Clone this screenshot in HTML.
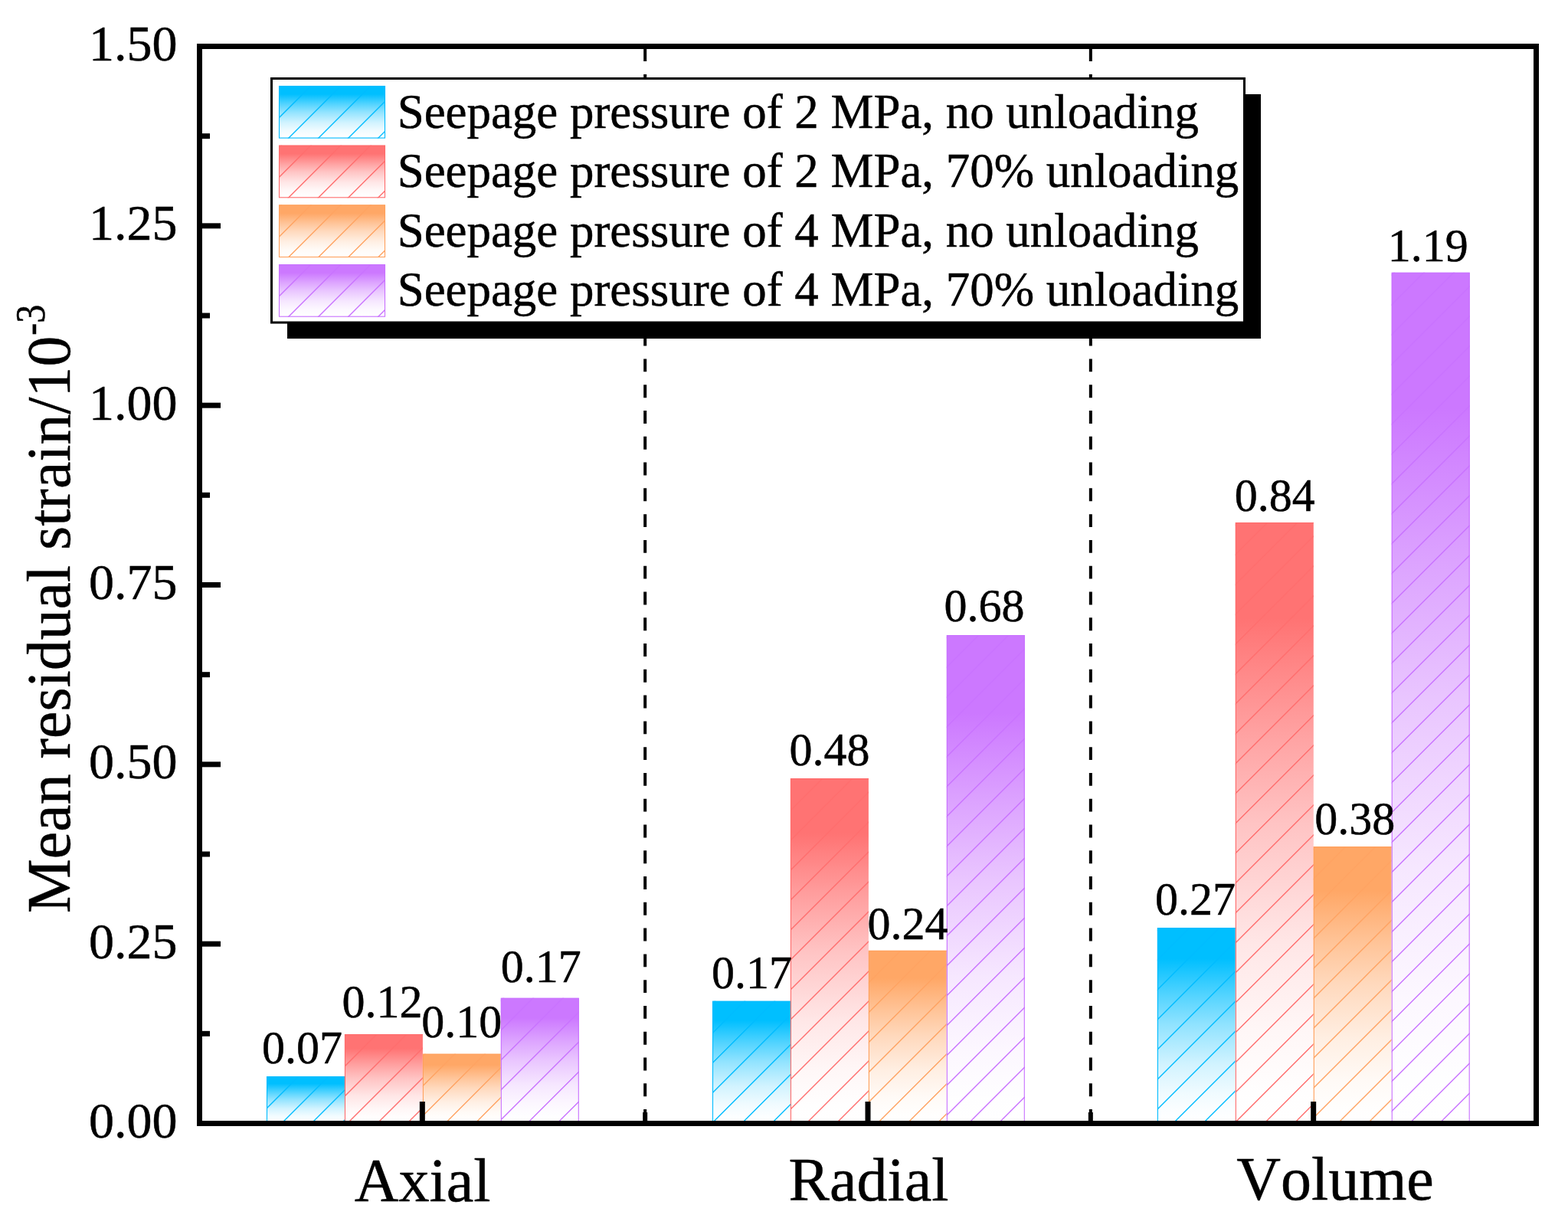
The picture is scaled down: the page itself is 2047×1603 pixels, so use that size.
<!DOCTYPE html><html><head><meta charset="utf-8"><title>Mean residual strain</title>
<style>html,body{margin:0;padding:0;background:#fff;overflow:hidden;}svg{display:block;}text{font-family:"Liberation Serif", "Times New Roman", serif;fill:#000;font-kerning:none;stroke:#000;stroke-width:0.5px;}</style>
</head><body>
<svg width="2047" height="1603" viewBox="0 0 2047 1603">
<defs><linearGradient id="gc" x1="0" y1="0" x2="0" y2="1"><stop offset="0.000" stop-color="#00BFFF"/><stop offset="0.160" stop-color="#00BFFF"/><stop offset="0.350" stop-color="#54D4FF"/><stop offset="0.500" stop-color="#91E3FF"/><stop offset="0.700" stop-color="#D1F3FF"/><stop offset="0.850" stop-color="#F0FBFF"/><stop offset="0.950" stop-color="#FCFEFF"/><stop offset="1.000" stop-color="#FFFFFF"/></linearGradient>
<linearGradient id="gr" x1="0" y1="0" x2="0" y2="1"><stop offset="0.000" stop-color="#FF7373"/><stop offset="0.160" stop-color="#FF7373"/><stop offset="0.350" stop-color="#FFA1A1"/><stop offset="0.500" stop-color="#FFC3C3"/><stop offset="0.700" stop-color="#FFE6E6"/><stop offset="0.850" stop-color="#FFF7F7"/><stop offset="0.950" stop-color="#FFFEFE"/><stop offset="1.000" stop-color="#FFFFFF"/></linearGradient>
<linearGradient id="go" x1="0" y1="0" x2="0" y2="1"><stop offset="0.000" stop-color="#FFA766"/><stop offset="0.160" stop-color="#FFA766"/><stop offset="0.350" stop-color="#FFC498"/><stop offset="0.500" stop-color="#FFD9BD"/><stop offset="0.700" stop-color="#FFEFE3"/><stop offset="0.850" stop-color="#FFFAF6"/><stop offset="0.950" stop-color="#FFFEFD"/><stop offset="1.000" stop-color="#FFFFFF"/></linearGradient>
<linearGradient id="gp" x1="0" y1="0" x2="0" y2="1"><stop offset="0.000" stop-color="#CC78FF"/><stop offset="0.160" stop-color="#CC78FF"/><stop offset="0.350" stop-color="#DDA5FF"/><stop offset="0.500" stop-color="#E9C5FF"/><stop offset="0.700" stop-color="#F6E7FF"/><stop offset="0.850" stop-color="#FCF7FF"/><stop offset="0.950" stop-color="#FEFEFF"/><stop offset="1.000" stop-color="#FFFFFF"/></linearGradient></defs>
<rect x="0" y="0" width="2047" height="1603" fill="#fff"/>
<line x1="842.17" y1="63.1" x2="842.17" y2="1463" stroke="#000" stroke-width="4" stroke-dasharray="16.9 16.88"/>
<line x1="1423.83" y1="63.1" x2="1423.83" y2="1463" stroke="#000" stroke-width="4" stroke-dasharray="16.9 16.88"/>
<clipPath id="cb1"><rect x="348.00" y="1405.00" width="101.95" height="60.00"/></clipPath>
<rect x="348.00" y="1405.00" width="101.95" height="60.00" fill="url(#gc)"/>
<path d="M346.00 1410.00L353.00 1403.00M346.00 1449.00L392.00 1403.00M367.00 1467.00L431.00 1403.00M406.00 1467.00L451.95 1421.05M445.00 1467.00L451.95 1460.05" stroke="#00BCFF" stroke-width="1.40" fill="none" clip-path="url(#cb1)"/>
<path d="M348.50 1465.00V1405.50H449.95" fill="none" stroke="#00BBFF" stroke-width="1.1"/>
<clipPath id="cb2"><rect x="449.95" y="1350.00" width="101.95" height="115.00"/></clipPath>
<rect x="449.95" y="1350.00" width="101.95" height="115.00" fill="url(#gr)"/>
<path d="M447.95 1355.00L454.95 1348.00M447.95 1394.00L493.95 1348.00M447.95 1433.00L532.95 1348.00M452.95 1467.00L553.90 1366.05M491.95 1467.00L553.90 1405.05M530.95 1467.00L553.90 1444.05" stroke="#FF6E6E" stroke-width="1.40" fill="none" clip-path="url(#cb2)"/>
<path d="M450.45 1465.00V1350.50H551.90" fill="none" stroke="#FF6B6B" stroke-width="1.1"/>
<clipPath id="cb3"><rect x="551.90" y="1375.70" width="101.95" height="89.30"/></clipPath>
<rect x="551.90" y="1375.70" width="101.95" height="89.30" fill="url(#go)"/>
<path d="M549.90 1380.70L556.90 1373.70M549.90 1419.70L595.90 1373.70M549.90 1458.70L634.90 1373.70M580.60 1467.00L655.85 1391.75M619.60 1467.00L655.85 1430.75" stroke="#FFA362" stroke-width="1.40" fill="none" clip-path="url(#cb3)"/>
<path d="M552.40 1465.00V1376.20H653.85" fill="none" stroke="#FFA05C" stroke-width="1.1"/>
<clipPath id="cb4"><rect x="653.85" y="1302.80" width="101.95" height="162.20"/></clipPath>
<rect x="653.85" y="1302.80" width="101.95" height="162.20" fill="url(#gp)"/>
<path d="M651.85 1307.80L658.85 1300.80M651.85 1346.80L697.85 1300.80M651.85 1385.80L736.85 1300.80M651.85 1424.80L757.80 1318.85M651.85 1463.80L757.80 1357.85M687.65 1467.00L757.80 1396.85M726.65 1467.00L757.80 1435.85" stroke="#C973FF" stroke-width="1.40" fill="none" clip-path="url(#cb4)"/>
<path d="M654.35 1465.00V1303.30H755.30V1465.00" fill="none" stroke="#C870FF" stroke-width="1.1"/>
<clipPath id="cb5"><rect x="930.00" y="1306.80" width="101.95" height="158.20"/></clipPath>
<rect x="930.00" y="1306.80" width="101.95" height="158.20" fill="url(#gc)"/>
<path d="M928.00 1311.80L935.00 1304.80M928.00 1350.80L974.00 1304.80M928.00 1389.80L1013.00 1304.80M928.00 1428.80L1033.95 1322.85M928.80 1467.00L1033.95 1361.85M967.80 1467.00L1033.95 1400.85M1006.80 1467.00L1033.95 1439.85" stroke="#00BCFF" stroke-width="1.40" fill="none" clip-path="url(#cb5)"/>
<path d="M930.50 1465.00V1307.30H1031.95" fill="none" stroke="#00BBFF" stroke-width="1.1"/>
<clipPath id="cb6"><rect x="1031.95" y="1016.10" width="101.95" height="448.90"/></clipPath>
<rect x="1031.95" y="1016.10" width="101.95" height="448.90" fill="url(#gr)"/>
<path d="M1029.95 1021.10L1036.95 1014.10M1029.95 1060.10L1075.95 1014.10M1029.95 1099.10L1114.95 1014.10M1029.95 1138.10L1135.90 1032.15M1029.95 1177.10L1135.90 1071.15M1029.95 1216.10L1135.90 1110.15M1029.95 1255.10L1135.90 1149.15M1029.95 1294.10L1135.90 1188.15M1029.95 1333.10L1135.90 1227.15M1029.95 1372.10L1135.90 1266.15M1029.95 1411.10L1135.90 1305.15M1029.95 1450.10L1135.90 1344.15M1052.05 1467.00L1135.90 1383.15M1091.05 1467.00L1135.90 1422.15M1130.05 1467.00L1135.90 1461.15" stroke="#FF6E6E" stroke-width="1.40" fill="none" clip-path="url(#cb6)"/>
<path d="M1032.45 1465.00V1016.60H1133.90" fill="none" stroke="#FF6B6B" stroke-width="1.1"/>
<clipPath id="cb7"><rect x="1133.90" y="1240.90" width="101.95" height="224.10"/></clipPath>
<rect x="1133.90" y="1240.90" width="101.95" height="224.10" fill="url(#go)"/>
<path d="M1131.90 1245.90L1138.90 1238.90M1131.90 1284.90L1177.90 1238.90M1131.90 1323.90L1216.90 1238.90M1131.90 1362.90L1237.85 1256.95M1131.90 1401.90L1237.85 1295.95M1131.90 1440.90L1237.85 1334.95M1144.80 1467.00L1237.85 1373.95M1183.80 1467.00L1237.85 1412.95M1222.80 1467.00L1237.85 1451.95" stroke="#FFA362" stroke-width="1.40" fill="none" clip-path="url(#cb7)"/>
<path d="M1134.40 1465.00V1241.40H1235.85" fill="none" stroke="#FFA05C" stroke-width="1.1"/>
<clipPath id="cb8"><rect x="1235.85" y="829.00" width="101.95" height="636.00"/></clipPath>
<rect x="1235.85" y="829.00" width="101.95" height="636.00" fill="url(#gp)"/>
<path d="M1233.85 834.00L1240.85 827.00M1233.85 873.00L1279.85 827.00M1233.85 912.00L1318.85 827.00M1233.85 951.00L1339.80 845.05M1233.85 990.00L1339.80 884.05M1233.85 1029.00L1339.80 923.05M1233.85 1068.00L1339.80 962.05M1233.85 1107.00L1339.80 1001.05M1233.85 1146.00L1339.80 1040.05M1233.85 1185.00L1339.80 1079.05M1233.85 1224.00L1339.80 1118.05M1233.85 1263.00L1339.80 1157.05M1233.85 1302.00L1339.80 1196.05M1233.85 1341.00L1339.80 1235.05M1233.85 1380.00L1339.80 1274.05M1233.85 1419.00L1339.80 1313.05M1233.85 1458.00L1339.80 1352.05M1263.85 1467.00L1339.80 1391.05M1302.85 1467.00L1339.80 1430.05" stroke="#C973FF" stroke-width="1.40" fill="none" clip-path="url(#cb8)"/>
<path d="M1236.35 1465.00V829.50H1337.30V1465.00" fill="none" stroke="#C870FF" stroke-width="1.1"/>
<clipPath id="cb9"><rect x="1510.90" y="1211.00" width="101.95" height="254.00"/></clipPath>
<rect x="1510.90" y="1211.00" width="101.95" height="254.00" fill="url(#gc)"/>
<path d="M1508.90 1216.00L1515.90 1209.00M1508.90 1255.00L1554.90 1209.00M1508.90 1294.00L1593.90 1209.00M1508.90 1333.00L1614.85 1227.05M1508.90 1372.00L1614.85 1266.05M1508.90 1411.00L1614.85 1305.05M1508.90 1450.00L1614.85 1344.05M1530.90 1467.00L1614.85 1383.05M1569.90 1467.00L1614.85 1422.05M1608.90 1467.00L1614.85 1461.05" stroke="#00BCFF" stroke-width="1.40" fill="none" clip-path="url(#cb9)"/>
<path d="M1511.40 1465.00V1211.50H1612.85" fill="none" stroke="#00BBFF" stroke-width="1.1"/>
<clipPath id="cb10"><rect x="1612.85" y="682.00" width="101.95" height="783.00"/></clipPath>
<rect x="1612.85" y="682.00" width="101.95" height="783.00" fill="url(#gr)"/>
<path d="M1610.85 687.00L1617.85 680.00M1610.85 726.00L1656.85 680.00M1610.85 765.00L1695.85 680.00M1610.85 804.00L1716.80 698.05M1610.85 843.00L1716.80 737.05M1610.85 882.00L1716.80 776.05M1610.85 921.00L1716.80 815.05M1610.85 960.00L1716.80 854.05M1610.85 999.00L1716.80 893.05M1610.85 1038.00L1716.80 932.05M1610.85 1077.00L1716.80 971.05M1610.85 1116.00L1716.80 1010.05M1610.85 1155.00L1716.80 1049.05M1610.85 1194.00L1716.80 1088.05M1610.85 1233.00L1716.80 1127.05M1610.85 1272.00L1716.80 1166.05M1610.85 1311.00L1716.80 1205.05M1610.85 1350.00L1716.80 1244.05M1610.85 1389.00L1716.80 1283.05M1610.85 1428.00L1716.80 1322.05M1610.85 1467.00L1716.80 1361.05M1649.85 1467.00L1716.80 1400.05M1688.85 1467.00L1716.80 1439.05" stroke="#FF6E6E" stroke-width="1.40" fill="none" clip-path="url(#cb10)"/>
<path d="M1613.35 1465.00V682.50H1714.80" fill="none" stroke="#FF6B6B" stroke-width="1.1"/>
<clipPath id="cb11"><rect x="1714.80" y="1105.10" width="101.95" height="359.90"/></clipPath>
<rect x="1714.80" y="1105.10" width="101.95" height="359.90" fill="url(#go)"/>
<path d="M1712.80 1110.10L1719.80 1103.10M1712.80 1149.10L1758.80 1103.10M1712.80 1188.10L1797.80 1103.10M1712.80 1227.10L1818.75 1121.15M1712.80 1266.10L1818.75 1160.15M1712.80 1305.10L1818.75 1199.15M1712.80 1344.10L1818.75 1238.15M1712.80 1383.10L1818.75 1277.15M1712.80 1422.10L1818.75 1316.15M1712.80 1461.10L1818.75 1355.15M1745.90 1467.00L1818.75 1394.15M1784.90 1467.00L1818.75 1433.15" stroke="#FFA362" stroke-width="1.40" fill="none" clip-path="url(#cb11)"/>
<path d="M1715.30 1465.00V1105.60H1816.75" fill="none" stroke="#FFA05C" stroke-width="1.1"/>
<clipPath id="cb12"><rect x="1816.75" y="355.80" width="101.95" height="1109.20"/></clipPath>
<rect x="1816.75" y="355.80" width="101.95" height="1109.20" fill="url(#gp)"/>
<path d="M1814.75 360.80L1821.75 353.80M1814.75 399.80L1860.75 353.80M1814.75 438.80L1899.75 353.80M1814.75 477.80L1920.70 371.85M1814.75 516.80L1920.70 410.85M1814.75 555.80L1920.70 449.85M1814.75 594.80L1920.70 488.85M1814.75 633.80L1920.70 527.85M1814.75 672.80L1920.70 566.85M1814.75 711.80L1920.70 605.85M1814.75 750.80L1920.70 644.85M1814.75 789.80L1920.70 683.85M1814.75 828.80L1920.70 722.85M1814.75 867.80L1920.70 761.85M1814.75 906.80L1920.70 800.85M1814.75 945.80L1920.70 839.85M1814.75 984.80L1920.70 878.85M1814.75 1023.80L1920.70 917.85M1814.75 1062.80L1920.70 956.85M1814.75 1101.80L1920.70 995.85M1814.75 1140.80L1920.70 1034.85M1814.75 1179.80L1920.70 1073.85M1814.75 1218.80L1920.70 1112.85M1814.75 1257.80L1920.70 1151.85M1814.75 1296.80L1920.70 1190.85M1814.75 1335.80L1920.70 1229.85M1814.75 1374.80L1920.70 1268.85M1814.75 1413.80L1920.70 1307.85M1814.75 1452.80L1920.70 1346.85M1839.55 1467.00L1920.70 1385.85M1878.55 1467.00L1920.70 1424.85M1917.55 1467.00L1920.70 1463.85" stroke="#C973FF" stroke-width="1.40" fill="none" clip-path="url(#cb12)"/>
<path d="M1817.25 1465.00V356.30H1918.20V1465.00" fill="none" stroke="#C870FF" stroke-width="1.1"/>
<text transform="translate(342.00,1387.50) scale(1,1.035)" font-size="60">0.07</text>
<text transform="translate(446.40,1327.80) scale(1,1.035)" font-size="60">0.12</text>
<text transform="translate(550.20,1354.30) scale(1,1.035)" font-size="60">0.10</text>
<text transform="translate(653.70,1281.70) scale(1,1.035)" font-size="60">0.17</text>
<text transform="translate(929.00,1289.80) scale(1,1.035)" font-size="60">0.17</text>
<text transform="translate(1030.50,999.00) scale(1,1.035)" font-size="60">0.48</text>
<text transform="translate(1132.40,1225.70) scale(1,1.035)" font-size="60">0.24</text>
<text transform="translate(1232.40,810.60) scale(1,1.035)" font-size="60">0.68</text>
<text transform="translate(1508.10,1194.00) scale(1,1.035)" font-size="60">0.27</text>
<text transform="translate(1611.70,667.10) scale(1,1.035)" font-size="60">0.84</text>
<text transform="translate(1716.30,1088.50) scale(1,1.035)" font-size="60">0.38</text>
<text transform="translate(1811.80,340.60) scale(1,1.035)" font-size="60">1.19</text>
<rect x="375" y="123" width="1271" height="319" fill="#000"/>
<rect x="354.50" y="102.50" width="1270.00" height="318.50" fill="#fff" stroke="#000" stroke-width="3"/>
<clipPath id="cb13"><rect x="364.00" y="112.00" width="139.00" height="68.60"/></clipPath>
<rect x="364.00" y="112.00" width="139.00" height="68.60" fill="url(#gc)"/>
<path d="M362.00 117.00L369.00 110.00M362.00 156.00L408.00 110.00M374.40 182.60L447.00 110.00M413.40 182.60L486.00 110.00M452.40 182.60L505.00 130.00M491.40 182.60L505.00 169.00" stroke="#00BCFF" stroke-width="1.40" fill="none" clip-path="url(#cb13)"/>
<rect x="364.50" y="112.50" width="138.00" height="67.60" fill="none" stroke="#00BBFF" stroke-width="1.1"/>
<text x="518.7" y="167.00" font-size="62.9">Seepage pressure of 2 MPa, no unloading</text>
<clipPath id="cb14"><rect x="364.00" y="189.70" width="139.00" height="68.60"/></clipPath>
<rect x="364.00" y="189.70" width="139.00" height="68.60" fill="url(#gr)"/>
<path d="M362.00 194.70L369.00 187.70M362.00 233.70L408.00 187.70M374.40 260.30L447.00 187.70M413.40 260.30L486.00 187.70M452.40 260.30L505.00 207.70M491.40 260.30L505.00 246.70" stroke="#FF6E6E" stroke-width="1.40" fill="none" clip-path="url(#cb14)"/>
<rect x="364.50" y="190.20" width="138.00" height="67.60" fill="none" stroke="#FF6B6B" stroke-width="1.1"/>
<text x="518.7" y="243.60" font-size="62.9">Seepage pressure of 2 MPa, 70% unloading</text>
<clipPath id="cb15"><rect x="364.00" y="267.40" width="139.00" height="68.60"/></clipPath>
<rect x="364.00" y="267.40" width="139.00" height="68.60" fill="url(#go)"/>
<path d="M362.00 272.40L369.00 265.40M362.00 311.40L408.00 265.40M374.40 338.00L447.00 265.40M413.40 338.00L486.00 265.40M452.40 338.00L505.00 285.40M491.40 338.00L505.00 324.40" stroke="#FFA362" stroke-width="1.40" fill="none" clip-path="url(#cb15)"/>
<rect x="364.50" y="267.90" width="138.00" height="67.60" fill="none" stroke="#FFA05C" stroke-width="1.1"/>
<text x="518.7" y="322.20" font-size="62.9">Seepage pressure of 4 MPa, no unloading</text>
<clipPath id="cb16"><rect x="364.00" y="345.10" width="139.00" height="68.60"/></clipPath>
<rect x="364.00" y="345.10" width="139.00" height="68.60" fill="url(#gp)"/>
<path d="M362.00 350.10L369.00 343.10M362.00 389.10L408.00 343.10M374.40 415.70L447.00 343.10M413.40 415.70L486.00 343.10M452.40 415.70L505.00 363.10M491.40 415.70L505.00 402.10" stroke="#C973FF" stroke-width="1.40" fill="none" clip-path="url(#cb16)"/>
<rect x="364.50" y="345.60" width="138.00" height="67.60" fill="none" stroke="#C870FF" stroke-width="1.1"/>
<text x="518.7" y="398.70" font-size="62.9">Seepage pressure of 4 MPa, 70% unloading</text>
<rect x="260.50" y="60.50" width="1745.00" height="1406.00" fill="none" stroke="#000" stroke-width="7"/>
<line x1="264" y1="1466.50" x2="288" y2="1466.50" stroke="#000" stroke-width="7"/>
<line x1="264" y1="1349.33" x2="274" y2="1349.33" stroke="#000" stroke-width="7"/>
<line x1="264" y1="1232.17" x2="288" y2="1232.17" stroke="#000" stroke-width="7"/>
<line x1="264" y1="1115.00" x2="274" y2="1115.00" stroke="#000" stroke-width="7"/>
<line x1="264" y1="997.83" x2="288" y2="997.83" stroke="#000" stroke-width="7"/>
<line x1="264" y1="880.67" x2="274" y2="880.67" stroke="#000" stroke-width="7"/>
<line x1="264" y1="763.50" x2="288" y2="763.50" stroke="#000" stroke-width="7"/>
<line x1="264" y1="646.33" x2="274" y2="646.33" stroke="#000" stroke-width="7"/>
<line x1="264" y1="529.17" x2="288" y2="529.17" stroke="#000" stroke-width="7"/>
<line x1="264" y1="412.00" x2="274" y2="412.00" stroke="#000" stroke-width="7"/>
<line x1="264" y1="294.83" x2="288" y2="294.83" stroke="#000" stroke-width="7"/>
<line x1="264" y1="177.67" x2="274" y2="177.67" stroke="#000" stroke-width="7"/>
<line x1="264" y1="60.50" x2="288" y2="60.50" stroke="#000" stroke-width="7"/>
<line x1="551.33" y1="1438" x2="551.33" y2="1463" stroke="#000" stroke-width="7"/>
<line x1="1133.00" y1="1438" x2="1133.00" y2="1463" stroke="#000" stroke-width="7"/>
<line x1="1714.67" y1="1438" x2="1714.67" y2="1463" stroke="#000" stroke-width="7"/>
<line x1="842.17" y1="1452" x2="842.17" y2="1463" stroke="#000" stroke-width="6"/>
<line x1="1423.83" y1="1452" x2="1423.83" y2="1463" stroke="#000" stroke-width="6"/>
<text x="231.5" y="1485.00" font-size="66" text-anchor="end">0.00</text>
<text x="231.5" y="1250.67" font-size="66" text-anchor="end">0.25</text>
<text x="231.5" y="1016.33" font-size="66" text-anchor="end">0.50</text>
<text x="231.5" y="782.00" font-size="66" text-anchor="end">0.75</text>
<text x="231.5" y="547.67" font-size="66" text-anchor="end">1.00</text>
<text x="231.5" y="313.33" font-size="66" text-anchor="end">1.25</text>
<text x="231.5" y="79.00" font-size="66" text-anchor="end">1.50</text>
<text x="551.5" y="1568" font-size="80" text-anchor="middle">Axial</text>
<text x="1134" y="1567" font-size="80" text-anchor="middle">Radial</text>
<text x="1743" y="1566.2" font-size="80" text-anchor="middle">Volume</text>
<text transform="translate(91.2,1192.1) rotate(-90)" font-size="79.8">Mean residual strain/10</text>
<text transform="translate(58.1,437.8) rotate(-90)" font-size="54" textLength="40.3" lengthAdjust="spacingAndGlyphs">-3</text>
</svg></body></html>
